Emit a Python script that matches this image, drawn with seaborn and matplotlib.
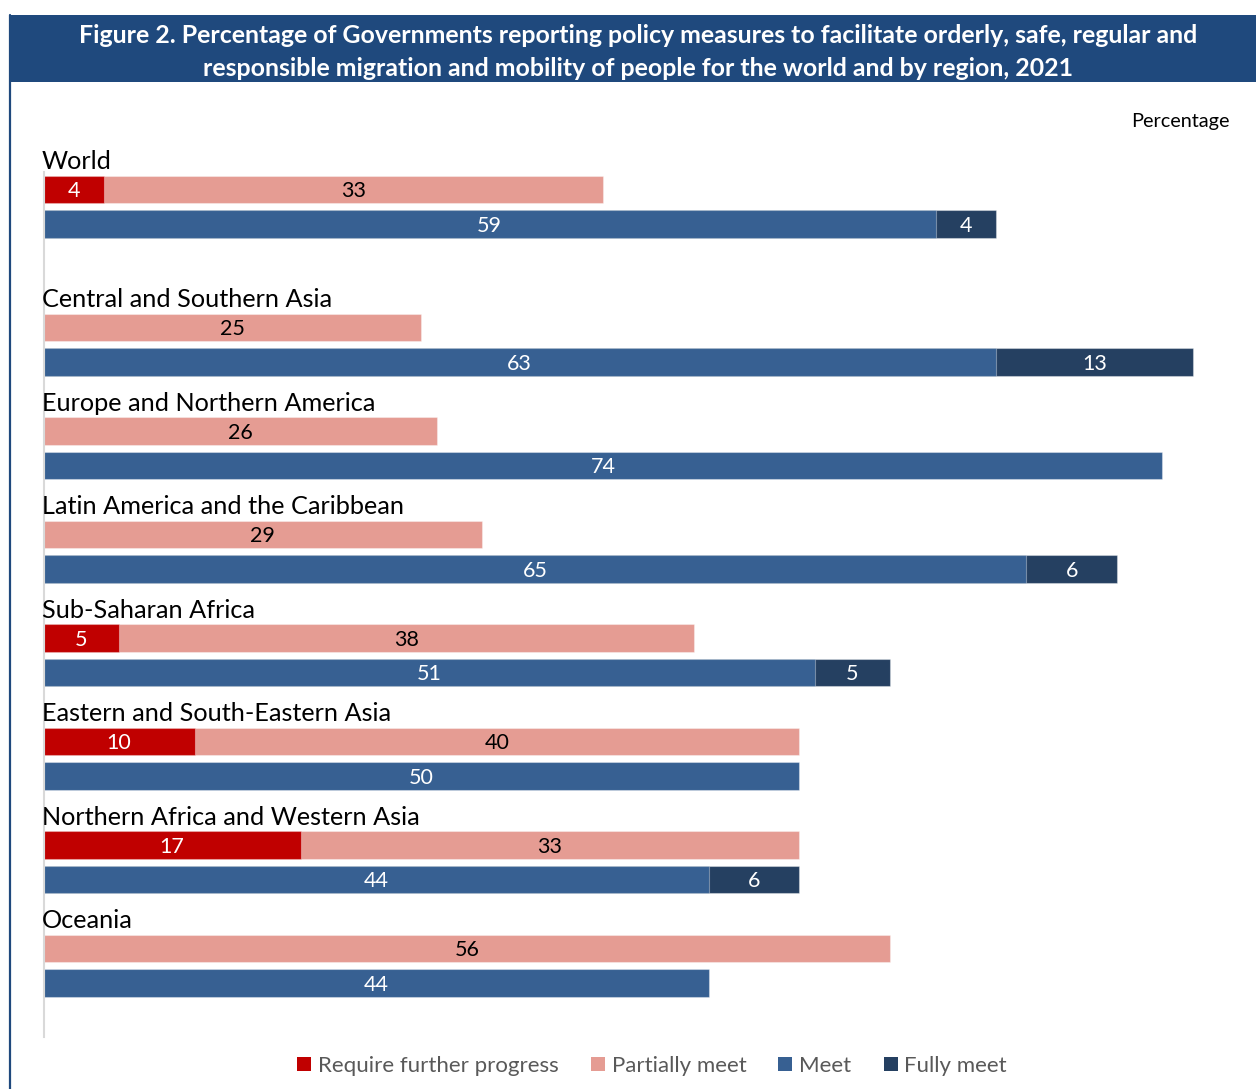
import matplotlib
matplotlib.use("Agg")
import matplotlib.pyplot as plt
from matplotlib.patches import Rectangle
from matplotlib.lines import Line2D
import seaborn as sns
import pandas as pd

# ---- data -----------------------------------------------------------------
regions = [
    "World",
    "Central and Southern Asia",
    "Europe and Northern America",
    "Latin America and the Caribbean",
    "Sub-Saharan Africa",
    "Eastern and South-Eastern Asia",
    "Northern Africa and Western Asia",
    "Oceania",
]
require_progress = [4, 0, 0, 0, 5, 10, 17, 0]
partially_meet = [33, 25, 26, 29, 38, 40, 33, 56]
meet = [59, 63, 74, 65, 51, 50, 44, 44]
fully_meet = [4, 13, 0, 6, 5, 0, 6, 0]

series_names = ["Require further progress", "Partially meet", "Meet", "Fully meet"]
title_lines = [
    "Figure 2. Percentage of Governments reporting policy measures to facilitate orderly, safe, regular and",
    "responsible migration and mobility of people for the world and by region, 2021",
]
unit_label = "Percentage"

# ---- style ----------------------------------------------------------------
C_REQ = "#C00000"
C_PART = "#E59C93"
C_MEET = "#376092"
C_FULL = "#254061"
C_BANNER = "#1F497D"

sns.set_theme(style="white")
plt.rcParams["font.family"] = ["Lato", "DejaVu Sans"]

W, H = 1256, 1089
fig = plt.figure(figsize=(W / 100, H / 100), dpi=100)

# banner with the title and the thin frame line on the left
fig.patches.append(Rectangle((10 / W, 1 - 82 / H), (W - 10) / W, 67 / H,
                             transform=fig.transFigure, facecolor=C_BANNER,
                             edgecolor="none", zorder=0))
fig.lines.append(Line2D([10 / W, 10 / W], [0, 1 - 15 / H], transform=fig.transFigure,
                        color=C_BANNER, linewidth=1.6))
fig.text(638 / W, 1 - 35.5 / H, title_lines[0], color="white", fontsize=17.9,
         fontweight="bold", ha="center", va="center")
fig.text(638 / W, 1 - 68.5 / H, title_lines[1], color="white", fontsize=17.9,
         fontweight="bold", ha="center", va="center")
fig.text(1230 / W, 1 - 121 / H, unit_label, color="black", fontsize=14.3,
         ha="right", va="center")

# plot area: 0..80 % across, 25 row slots down
ax = fig.add_axes([43.5 / W, 1 - 1037 / H, (1253 - 43.5) / W, 865 / H])

n_slots = 25
slot_names = [f"s{i}" for i in range(n_slots)]
top_slots = [0, 4, 7, 10, 13, 16, 19, 22]  # first bar of each region; second is +1

# long table of bar layers (cumulative ends so layers stack visually)
rows = []
for i, reg in enumerate(regions):
    t = top_slots[i]
    rp, pm, me, fm = require_progress[i], partially_meet[i], meet[i], fully_meet[i]
    rows.append(dict(slot=slot_names[t], layer="part", end=rp + pm))
    if rp > 0:
        rows.append(dict(slot=slot_names[t], layer="req", end=rp))
    if fm > 0:
        rows.append(dict(slot=slot_names[t + 1], layer="full", end=me + fm))
    rows.append(dict(slot=slot_names[t + 1], layer="meet", end=me))
df = pd.DataFrame(rows)

layer_colors = [("part", C_PART), ("req", C_REQ), ("full", C_FULL), ("meet", C_MEET)]
for layer, col in layer_colors:
    sub = df[df["layer"] == layer]
    sns.barplot(data=sub, x="end", y="slot", order=slot_names, orient="h",
                color=col, saturation=1, width=0.81, errorbar=None,
                edgecolor=(1, 1, 1, 0.35), linewidth=0.8, ax=ax)

ax.set_xlim(0, 80)
ax.set_ylim(24.565, -0.507)
ax.set_xlabel("")
ax.set_ylabel("")
ax.set_xticks([])
ax.set_yticks([])
for side in ["top", "right", "bottom"]:
    ax.spines[side].set_visible(False)
ax.spines["left"].set_color("#D9D9D9")
ax.spines["left"].set_linewidth(1.5)

# value labels centred in each segment, region names above each pair
lab_fs = 15.5
dy = 0.05
for i, reg in enumerate(regions):
    t = top_slots[i]
    rp, pm, me, fm = require_progress[i], partially_meet[i], meet[i], fully_meet[i]
    if rp > 0:
        ax.text(rp / 2, t + dy, f"{rp}", color="white", fontsize=lab_fs,
                ha="center", va="center")
    ax.text(rp + pm / 2, t + dy, f"{pm}", color="black", fontsize=lab_fs,
            ha="center", va="center")
    ax.text(me / 2, t + 1 + dy, f"{me}", color="white", fontsize=lab_fs,
            ha="center", va="center")
    if fm > 0:
        ax.text(me + fm / 2, t + 1 + dy, f"{fm}", color="white", fontsize=lab_fs,
                ha="center", va="center")
    ax.text(-0.12, t - 0.58, reg, color="black", fontsize=18.2, ha="left", va="baseline",
            clip_on=False)

# legend along the bottom
handles = [Rectangle((0, 0), 1, 1, facecolor=c, edgecolor="none")
           for c in [C_REQ, C_PART, C_MEET, C_FULL]]
fig.legend(handles, series_names, loc="center", bbox_to_anchor=(652 / W, 1 - 1066 / H),
           ncol=4, frameon=False, fontsize=16, handlelength=0.63, handleheight=0.63,
           handletextpad=0.3, columnspacing=1.45, labelcolor="#595959")

fig.savefig("out.png", dpi=100)
